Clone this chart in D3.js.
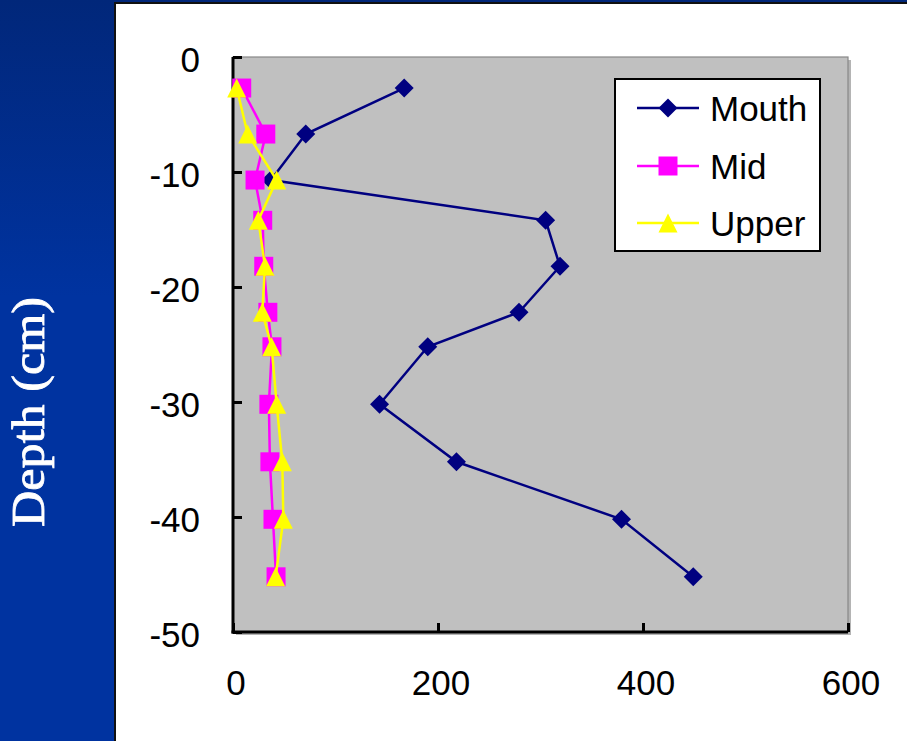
<!DOCTYPE html>
<html><head><meta charset="utf-8">
<script src="https://cdn.jsdelivr.net/npm/d3@7"></script>
<style>html,body{margin:0;padding:0;overflow:hidden;background:#0033a0}</style>
</head><body>
<svg id="c" width="907" height="741"></svg>
<script>
// ---- data ----
const seriesNames = ["Mouth", "Mid", "Upper"];
const depth  = [-2.7, -6.7, -10.7, -14.2, -18.2, -22.2, -25.2, -30.2, -35.2, -40.2, -45.2];
const mouth  = [167, 71, 37, 305, 319, 279, 190, 143, 218, 379, 449];
const mid    = [8.5, 32, 21.5, 29, 30, 34, 38, 35, 36, 39, 42];
const upper  = [3.6, 14.3, 42.6, 24.7, 31.2, 28.6, 37.7, 42.6, 48.1, 49.1, 41.6];
const xTicks = [0, 200, 400, 600];
const yTicks = [0, -10, -20, -30, -40, -50];
const yTitle = "Depth (cm)";

const svg = d3.select("#c");
const defs = svg.append("defs");
const grad = defs.append("linearGradient").attr("id","bg").attr("x1",0).attr("y1",0).attr("x2",0).attr("y2",1);
grad.append("stop").attr("offset","0").attr("stop-color","#01277a");
grad.append("stop").attr("offset","0.4").attr("stop-color","#0033a0");
grad.append("stop").attr("offset","1").attr("stop-color","#0033a0");
svg.append("rect").attr("width",907).attr("height",741).attr("fill","url(#bg)");

// white panel
svg.append("rect").attr("x",115).attr("y",3).attr("width",800).attr("height",750)
  .attr("fill","#fff").attr("stroke","#111").attr("stroke-width",2);

const x = d3.scaleLinear().domain([0,600]).range([233,848]);
const y = d3.scaleLinear().domain([0,-50]).range([57,632]);

// plot area + shadow
svg.append("rect").attr("x",x(0)+3).attr("y",y(0)+3).attr("width",x(600)-x(0)).attr("height",y(-50)-y(0))
  .attr("fill","#b4b4b4");
svg.append("rect").attr("x",x(0)).attr("y",y(0)).attr("width",x(600)-x(0)).attr("height",y(-50)-y(0))
  .attr("fill","#c0c0c0").attr("stroke","#888").attr("stroke-width",1.2);

const font = "'Liberation Sans', Arial, sans-serif";

// axes
const yAxis = d3.axisLeft(y).tickValues(yTicks).tickSize(-9).tickFormat("");
const gy = svg.append("g").attr("transform",`translate(${x(0)},0)`).call(yAxis);
const xAxis = d3.axisBottom(x).tickValues(xTicks).tickSize(-9).tickFormat("");
const gx = svg.append("g").attr("transform",`translate(0,${y(-50)})`).call(xAxis);
[gx,gy].forEach(g=>{
  g.select(".domain").attr("stroke","#000").attr("stroke-width",3);
  g.selectAll(".tick line").attr("stroke","#000").attr("stroke-width",3);
});
gy.select(".domain").attr("d",`M0,${y(0)}V${y(-50)+1.5}`);
gx.select(".domain").attr("d",`M${x(0)-1.5},0H${x(600)}`);

// tick labels
svg.append("g").selectAll("text").data(yTicks).join("text")
  .attr("x",200).attr("y",d=>y(d)+15).attr("text-anchor","end")
  .attr("font-family",font).attr("font-size",35).attr("fill","#000").text(d=>d);
svg.append("g").selectAll("text").data(xTicks).join("text")
  .attr("x",d=>x(d)+3).attr("y",695).attr("text-anchor","middle")
  .attr("font-family",font).attr("font-size",35).attr("fill","#000").text(d=>d);

// y title
svg.append("text").attr("transform","translate(44,412) rotate(-90)")
  .attr("text-anchor","middle").attr("font-family","'Liberation Serif','Times New Roman',serif")
  .attr("font-size",46).attr("textLength",230).attr("lengthAdjust","spacingAndGlyphs")
  .attr("fill","#fff").attr("stroke","#fff").attr("stroke-width",0.8).text(yTitle);

// markers
const diamond = r => `M0,${-r}L${r},0L0,${r}L${-r},0Z`;
const square = r => `M${-r},${-r}H${r}V${r}H${-r}Z`;
const triangle = r => `M0,${-r}L${r},${r}H${-r}Z`;

const series = [
  {name:seriesNames[0], xs:mouth, color:"#000080", shape:diamond(9.5)},
  {name:seriesNames[1], xs:mid, color:"#ff00ff", shape:square(9.5)},
  {name:seriesNames[2], xs:upper, color:"#ffff00", shape:triangle(9.5)}
];
const line = d3.line().x(d=>x(d[0])).y(d=>y(d[1]));
series.forEach(s=>{
  const pts = s.xs.map((v,i)=>[v,depth[i]]);
  const g = svg.append("g");
  g.append("path").attr("d",line(pts)).attr("fill","none").attr("stroke",s.color).attr("stroke-width",2.5);
  g.selectAll("path.m").data(pts).join("path").attr("class","m")
    .attr("transform",d=>`translate(${x(d[0])},${y(d[1])})`).attr("d",s.shape).attr("fill",s.color);
});

// legend
const lg = svg.append("g");
lg.append("rect").attr("x",615).attr("y",79).attr("width",205).attr("height",172)
  .attr("fill","#fff").attr("stroke","#000").attr("stroke-width",2);
const ly = [108, 166, 223];
series.forEach((s,i)=>{
  lg.append("line").attr("x1",637).attr("x2",699).attr("y1",ly[i]).attr("y2",ly[i])
    .attr("stroke",s.color).attr("stroke-width",2.5);
  lg.append("path").attr("transform",`translate(668,${ly[i]})`).attr("d",s.shape).attr("fill",s.color);
  lg.append("text").attr("x",710).attr("y",ly[i]+13).attr("font-family",font).attr("font-size",35)
    .attr("fill","#000").text(s.name);
});
</script>
</body></html>
